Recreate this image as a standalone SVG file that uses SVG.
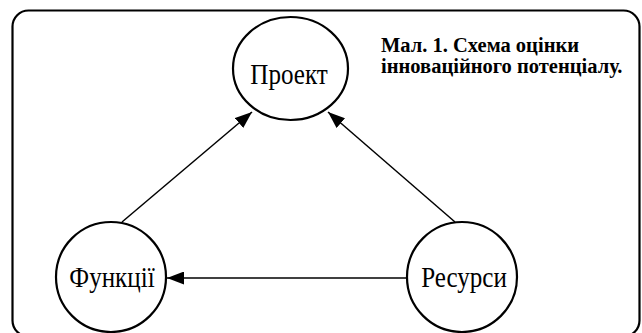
<svg xmlns="http://www.w3.org/2000/svg" width="642" height="333" viewBox="0 0 642 333">
<defs>
<style>
.frame{fill:none;stroke:#000;stroke-width:2.2}
.node{fill:#fff;stroke:#000;stroke-width:2.2}
.lbl{font-family:"Liberation Serif","Times New Roman",serif;font-size:28.5px;text-anchor:middle;fill:#000}
.title{font-family:"Liberation Serif","Times New Roman",serif;font-size:20.5px;font-weight:bold;fill:#000}
.edge{fill:none;stroke:#000;stroke-width:1.5}
</style>
<marker id="ah" viewBox="0 0 17 13" refX="17" refY="6.5" markerWidth="17" markerHeight="13" markerUnits="userSpaceOnUse" orient="auto">
<path d="M0,0 L17,6.5 L0,13 Z" fill="#000"/>
</marker>
</defs>
<rect class="frame" x="12.5" y="10.5" width="627" height="326" rx="16"/>
<text class="title" x="381" y="52">Мал. 1. Схема оцінки</text>
<text class="title" x="381" y="73">інноваційного потенціалу.</text>
<g id="connectors">
<line class="edge" x1="122" y1="222" x2="252" y2="112" marker-end="url(#ah)"/>
<line class="edge" x1="455" y1="222" x2="328" y2="112" marker-end="url(#ah)"/>
<line class="edge" x1="407" y1="278" x2="167" y2="278" marker-end="url(#ah)"/>
</g>
<g id="node-proekt">
<ellipse class="node" cx="290.5" cy="68.5" rx="57.5" ry="51.5"/>
<text class="lbl" transform="translate(289,84) scale(0.88,1)">Проект</text>
</g>
<g id="node-funktsii">
<ellipse class="node" cx="111" cy="277" rx="55" ry="55"/>
<text class="lbl" transform="translate(112,287) scale(0.88,1)">Функції</text>
</g>
<g id="node-resursy">
<ellipse class="node" cx="462" cy="277" rx="55" ry="55"/>
<text class="lbl" transform="translate(464,287) scale(0.88,1)">Ресурси</text>
</g>
</svg>
